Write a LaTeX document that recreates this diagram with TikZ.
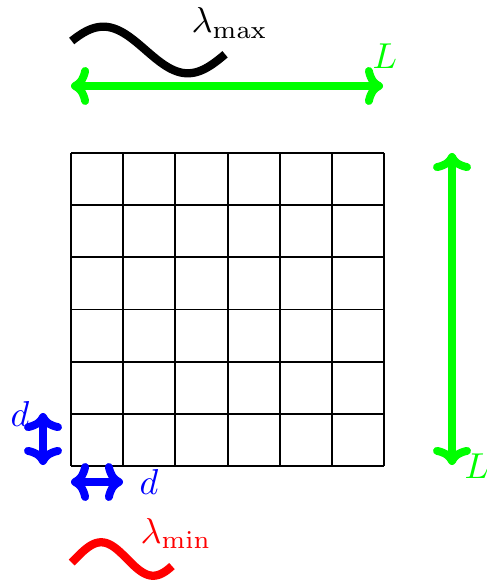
\documentclass[tikz,border=0pt]{standalone}
\usetikzlibrary{arrows.meta}
\begin{document}
\begin{tikzpicture}[x=0.2778pt,y=-0.2778pt,
  gridline/.style={line width=0.55pt,black},
  dimarrow/.style={line width=2.2pt,line cap=round,{Computer Modern Rightarrow[round,scale=0.78]}-{Computer Modern Rightarrow[round,scale=0.78]}},
  wave/.style={line width=2.3pt},
  lbl/.style={inner sep=0pt,anchor=base west}]
\useasboundingbox (0,0) rectangle (487,586);
% grid
\coordinate (g00) at (71,153);
\coordinate (g11) at (384,466);
\foreach \i in {0,...,6}{
  \draw[gridline] ({71+52.17*\i},153) -- ({71+52.17*\i},466);
  \draw[gridline] (71,{153+52.17*\i}) -- (384,{153+52.17*\i});
}
% black wave
\draw[wave,black,domain=22.7:349.4,samples=80,variable=\t]
  plot ({71.7+(\t-22.7)*0.46944},{50-23.3*sin(\t)});
\node[lbl] (lmax) at (191,33) {$\lambda_{\max}$};
% red wave
\draw[wave,red,domain=-12:335,samples=80,variable=\t]
  plot ({71.7+(\t+12)*0.28889},{559-16.7*sin(\t)});
\node[lbl,text=red] (lmin) at (140,543.5) {$\lambda_{\min}$};
% green arrows
\coordinate (hl) at (71,86);
\coordinate (hr) at (383,86);
\draw[dimarrow,green] (hl) -- (hr);
\node[lbl,text=green] (Ltop) at (372,69) {$L$};
\coordinate (vt) at (452,153);
\coordinate (vb) at (452,465);
\draw[dimarrow,green] (vt) -- (vb);
\node[lbl,text=green] (Lright) at (464,478) {$L$};
% blue arrows
\coordinate (dvt) at (43,413);
\coordinate (dvb) at (43,465);
\draw[dimarrow,blue] (dvt) -- (dvb);
\node[lbl,text=blue] (dl) at (10,426) {$d$};
\coordinate (dhl) at (71,482);
\coordinate (dhr) at (123,482);
\draw[dimarrow,blue] (dhl) -- (dhr);
\node[lbl,text=blue] (db) at (139,494) {$d$};
\end{tikzpicture}
\end{document}
